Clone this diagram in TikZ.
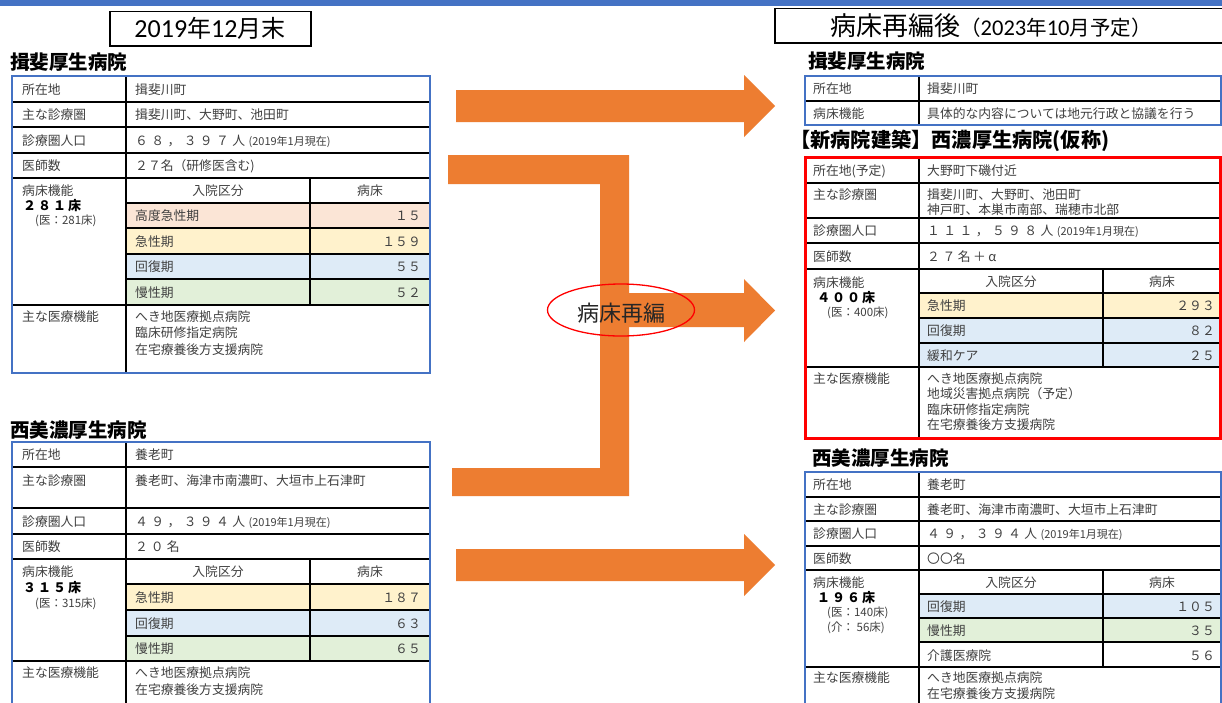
\documentclass[tikz,border=0pt]{standalone}
\usepackage{fontspec}
\setmainfont{Noto Sans CJK JP}
\newfontfamily\lat{Carlito}
\usetikzlibrary{shapes.geometric}
\definecolor{frameblue}{HTML}{4472C4}
\definecolor{arroworange}{HTML}{ED7D31}
\definecolor{pinkc}{HTML}{FBE5D6}
\definecolor{yelc}{HTML}{FFF2CC}
\definecolor{bluc}{HTML}{DEEBF7}
\definecolor{grnc}{HTML}{E2F0D9}
\definecolor{txtgray}{HTML}{404040}
\makeatletter
\def\spc#1#2{\def\spc@k{#1}\spc@a#2\@nil}
\def\spc@a#1{\ifx#1\@nil\else#1\kern\spc@k\expandafter\spc@a\fi}
\makeatother
\newcommand\smparen[1]{{\fontsize{11}{13}\selectfont #1}}
\newcommand\smtxt[1]{{\fontsize{11.5}{14}\selectfont #1}}
\newcommand\Tx[4]{\node[txt] (#1) at ({#2},{#3+5}) {#4};}
\newcommand\Nm[4]{\node[numtxt] (#1) at ({#2},{#3+5}) {#4};}
\newcommand\Hd[4]{\node[hdtxt] (#1) at ({#2},{#3+5}) {#4};}
\newcommand\Bd[4]{\node[bdtxt] (#1) at ({#2},{#3+5}) {\spc{2pt}{#4}};}
\newcommand\Sm[4]{\node[txt] (#1) at ({#2},{#3+4.4}) {\smtxt{#4}};}
\begin{document}
\begin{tikzpicture}[x=1pt,y=-1pt,
  txt/.style={anchor=base west,inner sep=0pt,text=txtgray,font={\fontsize{12.8}{16.5}\selectfont}},
  numtxt/.style={txt,anchor=base east},
  hdtxt/.style={txt,anchor=base},
  bdtxt/.style={txt,text=black,font={\bfseries\fontsize{13}{16}\selectfont}},
  ttl/.style={anchor=base west,inner sep=0pt,font={\bfseries\fontsize{19.5}{22}\selectfont}},
  gridl/.style={draw=black,line width=1.2pt},
  bframe/.style={draw=frameblue,line width=2pt},
  rframe/.style={draw=red,line width=3pt},
  arr/.style={fill=arroworange,draw=none},
  tbox/.style={draw=black,line width=1.3pt}]
\path[use as bounding box,clip] (0,0) rectangle (1222,702);
\fill[white] (0,0) rectangle (1222,702);
\fill[frameblue] (0,0) rectangle (1222,5.5);

% ---------- title boxes ----------
\draw[tbox] (110,11.5) rectangle (311,46);
\node[anchor=base,inner sep=0pt,font={\fontsize{24}{28}\selectfont}] (ttlL) at (210,37.5) {{\lat\fontsize{26}{28}\selectfont 2019}年{\lat\fontsize{26}{28}\selectfont 12}月末};
\draw[tbox] (1240,8.5) -- (775,8.5) -- (775,43) -- (1240,43);
\node[anchor=base west,inner sep=0pt,font={\fontsize{26}{30}\selectfont}] (ttlR) at (830,35) {病床再編後{\fontsize{20.5}{22}\selectfont （{\lat\fontsize{22.5}{24}\selectfont 2023}年{\lat\fontsize{22.5}{24}\selectfont 10}月予定）}};

% ---------- hospital titles ----------
\node[ttl] (h1) at (10,69.4) {揖斐厚生病院};
\node[ttl] (h2) at (10,437.4) {西美濃厚生病院};
\node[ttl] (h3) at (808,68.4) {揖斐厚生病院};
\node[ttl,font={\bfseries\fontsize{20.2}{22}\selectfont}] (h4) at (790,147.6) {【新病院建築】西濃厚生病院(仮称)};
\node[ttl] (h5) at (812,465.4) {西美濃厚生病院};

% ---------- table 1 (left top) ----------
\fill[pinkc] (126,203) rectangle (430,228);
\fill[yelc] (126,228) rectangle (430,254);
\fill[bluc] (126,254) rectangle (430,279);
\fill[grnc] (126,279) rectangle (430,305);
\draw[gridl] (12,102)--(430,102) (12,127)--(430,127) (12,153)--(430,153) (12,178)--(430,178) (12,305)--(430,305)
  (126,203)--(430,203) (126,228)--(430,228) (126,254)--(430,254) (126,279)--(430,279)
  (126,76)--(126,373) (310,178)--(310,305);
\draw[bframe] (12,76) rectangle (430,373);
\Tx{a1}{22}{89}{所在地}\Tx{a2}{135}{89}{揖斐川町}
\Tx{a3}{22}{114.5}{主な診療圏}\Tx{a4}{135}{114.5}{揖斐川町、大野町、池田町}
\Tx{a5}{22}{140}{診療圏人口}\Tx{a6}{135}{140}{\spc{3.4pt}{６８，３９７人}\smparen{(2019年1月現在)}}
\Tx{a7}{22}{165.5}{医師数}\Tx{a8}{135}{165.5}{２７名（研修医含む)}
\Tx{a9}{22}{190}{病床機能}\Hd{a10}{218}{190.5}{入院区分}\Hd{a11}{370}{190.5}{病床}
\Bd{a12}{23}{205}{２８１床}\Sm{a13}{35}{220}{(医：281床)}
\Tx{a14}{135}{215.5}{高度急性期}\Nm{a15}{421}{215.5}{１５}
\Tx{a16}{135}{241}{急性期}\Nm{a17}{421}{241}{１５９}
\Tx{a18}{135}{266.5}{回復期}\Nm{a19}{421}{266.5}{５５}
\Tx{a20}{135}{292}{慢性期}\Nm{a21}{421}{292}{５２}
\Tx{a22}{22}{316}{主な医療機能}
\Tx{a23}{135}{316}{\begin{tabular}[t]{@{}l@{}}へき地医療拠点病院\\臨床研修指定病院\\在宅療養後方支援病院\end{tabular}}

% ---------- table 2 (left bottom) ----------
\fill[yelc] (126,584) rectangle (430,610);
\fill[bluc] (126,610) rectangle (430,636);
\fill[grnc] (126,636) rectangle (430,661);
\draw[gridl] (12,467)--(430,467) (12,508)--(430,508) (12,534)--(430,534) (12,559)--(430,559) (12,661)--(430,661)
  (126,584)--(430,584) (126,610)--(430,610) (126,636)--(430,636)
  (126,442)--(126,710) (310,559)--(310,661);
\draw[bframe] (12,710)--(12,442)--(430,442)--(430,710);
\Tx{b1}{22}{454.5}{所在地}\Tx{b2}{135}{454.5}{養老町}
\Tx{b3}{22}{480}{主な診療圏}\Tx{b4}{135}{480}{養老町、海津市南濃町、大垣市上石津町}
\Tx{b5}{22}{521}{診療圏人口}\Tx{b6}{135}{521}{\spc{3.4pt}{４９，３９４人}\smparen{(2019年1月現在)}}
\Tx{b7}{22}{546.5}{医師数}\Tx{b8}{135}{546.5}{\spc{3pt}{２０名}}
\Tx{b9}{22}{571}{病床機能}\Hd{b10}{218}{571.5}{入院区分}\Hd{b11}{370}{571.5}{病床}
\Bd{b12}{23}{587}{３１５床}\Sm{b13}{35}{603}{(医：315床)}
\Tx{b14}{135}{597}{急性期}\Nm{b15}{421}{597}{１８７}
\Tx{b16}{135}{623}{回復期}\Nm{b17}{421}{623}{６３}
\Tx{b18}{135}{648.5}{慢性期}\Nm{b19}{421}{648.5}{６５}
\Tx{b20}{22}{672}{主な医療機能}
\node[txt,font={\fontsize{12.8}{17}\selectfont}] (b21) at (135,677) {\begin{tabular}[t]{@{}l@{}}へき地医療拠点病院\\在宅療養後方支援病院\end{tabular}};

% ---------- table 3 (right top) ----------
\draw[gridl] (805,101)--(1221,101) (919,76)--(919,125);
\draw[bframe] (805,76) rectangle (1221,125);
\Tx{c1}{813}{88.5}{所在地}\Tx{c2}{927}{88.5}{揖斐川町}
\Tx{c3}{813}{113}{病床機能}\Tx{c4}{927}{113}{具体的な内容については地元行政と協議を行う}

% ---------- table 4 (new hospital) ----------
\fill[yelc] (919,293) rectangle (1221,318);
\fill[bluc] (919,318) rectangle (1221,343);
\fill[bluc] (919,343) rectangle (1221,367);
\draw[gridl] (805,183)--(1221,183) (805,218)--(1221,218) (805,243)--(1221,243) (805,269)--(1221,269) (805,367)--(1221,367)
  (919,293)--(1221,293) (919,318)--(1221,318) (919,343)--(1221,343)
  (919,157)--(919,438) (1103,269)--(1103,367);
\draw[rframe] (805,157) rectangle (1220,438);
\Tx{d1}{813}{170}{所在地(予定)}\Tx{d2}{927}{170}{大野町下磯付近}
\Tx{d3}{813}{194}{主な診療圏}
\node[txt,font={\fontsize{12.8}{14.5}\selectfont}] (d4) at (927,199) {\begin{tabular}[t]{@{}l@{}}揖斐川町、大野町、池田町\\神戸町、本巣市南部、瑞穂市北部\end{tabular}};
\Tx{d5}{813}{230.5}{診療圏人口}\Tx{d6}{927}{230.5}{\spc{3.4pt}{１１１，５９８人}\smparen{(2019年1月現在)}}
\Tx{d7}{813}{256}{医師数}\Tx{d8}{927}{256}{\spc{2.5pt}{２７名＋α}}
\Tx{d9}{813}{282}{病床機能}\Hd{d10}{1011}{281}{入院区分}\Hd{d11}{1162}{281}{病床}
\Bd{d12}{817}{297}{４００床}\Sm{d13}{827}{312}{(医：400床)}
\Tx{d14}{927}{305.5}{急性期}\Nm{d15}{1215}{305.5}{２９３}
\Tx{d16}{927}{330.5}{回復期}\Nm{d17}{1215}{330.5}{８２}
\Tx{d18}{927}{355}{緩和ケア}\Nm{d19}{1215}{355}{２５}
\Tx{d20}{813}{378}{主な医療機能}
\node[txt,font={\fontsize{12.8}{15.5}\selectfont}] (d21) at (927,383) {\begin{tabular}[t]{@{}l@{}}へき地医療拠点病院\\地域災害拠点病院（予定）\\臨床研修指定病院\\在宅療養後方支援病院\end{tabular}};

% ---------- table 5 (right bottom) ----------
\fill[bluc] (919,594) rectangle (1221,618);
\fill[grnc] (919,618) rectangle (1221,642);
\draw[gridl] (805,497)--(1221,497) (805,521)--(1221,521) (805,546)--(1221,546) (805,570)--(1221,570) (805,667)--(1221,667)
  (919,594)--(1221,594) (919,618)--(1221,618) (919,642)--(1221,642)
  (919,472)--(919,710) (1103,570)--(1103,667);
\draw[bframe] (805,710)--(805,472)--(1221,472)--(1221,710);
\Tx{e1}{813}{484.5}{所在地}\Tx{e2}{927}{484.5}{養老町}
\Tx{e3}{813}{509}{主な診療圏}\Tx{e4}{927}{509}{養老町、海津市南濃町、大垣市上石津町}
\Tx{e5}{813}{533.5}{診療圏人口}\Tx{e6}{927}{533.5}{\spc{3.4pt}{４９，３９４人}\smparen{(2019年1月現在)}}
\Tx{e7}{813}{558}{医師数}\Tx{e8}{927}{558}{〇〇名}
\Tx{e9}{813}{582}{病床機能}\Hd{e10}{1011}{582}{入院区分}\Hd{e11}{1162}{582}{病床}
\Bd{e12}{817}{597}{１９６床}\Sm{e13}{827}{612}{(医：140床)}\Sm{e14}{827}{627}{(介： 56床)}
\Tx{e15}{927}{606}{回復期}\Nm{e16}{1215}{606}{１０５}
\Tx{e17}{927}{630}{慢性期}\Nm{e18}{1215}{630}{３５}
\Tx{e19}{927}{655}{介護医療院}\Nm{e20}{1215}{655}{５６}
\Tx{e21}{813}{677}{主な医療機能}
\node[txt,font={\fontsize{12.8}{16}\selectfont}] (e22) at (927,682) {\begin{tabular}[t]{@{}l@{}}へき地医療拠点病院\\在宅療養後方支援病院\end{tabular}};

% ---------- arrows ----------
\fill[arr] (456,90)--(744,90)--(744,75)--(775,106)--(744,137)--(744,122)--(456,122)--cycle;
\fill[arr] (448,155)--(629,155)--(629,496)--(452,496)--(452,468)--(600,468)--(600,184)--(448,184)--cycle;
\fill[arr] (628,293)--(744,293)--(744,279)--(775,310.5)--(744,342)--(744,327)--(628,327)--cycle;
\fill[arr] (456,549)--(744,549)--(744,534)--(775,565)--(744,596)--(744,581)--(456,581)--cycle;

% ---------- reorganisation label ----------
\node[ellipse,draw=red,line width=1.3pt,minimum width=147pt,minimum height=52pt,inner sep=0pt] (ell) at (621,310) {};
\node[anchor=base,inner sep=0pt,text=black!85,font={\fontsize{22}{26}\selectfont}] (ellt) at (621,321) {病床再編};
\end{tikzpicture}
\end{document}
